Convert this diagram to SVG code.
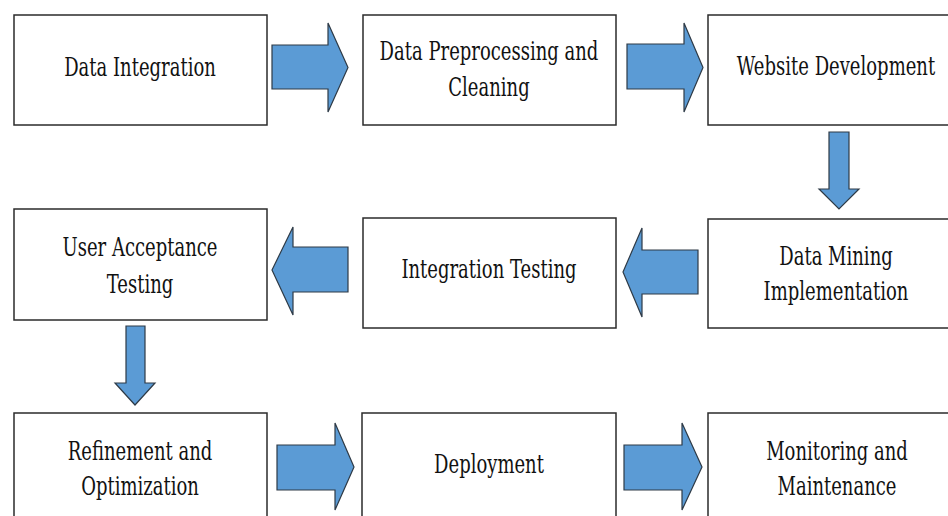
<svg xmlns="http://www.w3.org/2000/svg" width="948" height="516" viewBox="0 0 948 516">
<style>
.box{fill:#fff;stroke:#2b2b2b;stroke-width:1.5}
.arr{fill:#5b9bd5;stroke:#2e3a46;stroke-width:1.2;stroke-linejoin:miter}
.t{font-size:27px;fill:#111;text-anchor:middle}
.t2{font-size:25px;fill:#111;text-anchor:middle}
</style>
<rect width="948" height="516" fill="#fff"/>
<g id="connectors">
<polygon class="arr" points="272,45 328,45 328,23 348,67.5 328,112 328,89 272,89"/>
<polygon class="arr" points="627,44 684,44 684,23 703,67.5 684,112 684,89 627,89"/>
<polygon class="arr" points="829,132 849,132 849,189 859,189 839,209 819,189 829,189"/>
<polygon class="arr" points="698,250 642,250 642,228 623,272 642,317 642,294 698,294"/>
<polygon class="arr" points="348,247 293,247 293,227 272,270 293,315 293,292 348,292"/>
<polygon class="arr" points="126,326 145,326 145,383 155,383 135,405 115,383 126,383"/>
<polygon class="arr" points="277,445 335,445 335,423 354,467 335,510 335,490 277,490"/>
<polygon class="arr" points="624,445 682,445 682,423 702,467 682,510 682,490 624,490"/>
</g>
<g font-family="'DejaVu Serif', serif">
<g id="n1"><rect class="box" x="14" y="15" width="253" height="110"/>
<text class="t2" transform="translate(140,76) scale(0.72,1.05)">Data Integration</text></g>
<g id="n2"><rect class="box" x="363" y="15" width="253" height="110"/>
<text class="t2" transform="translate(489,60) scale(0.72,1.05)">Data Preprocessing and</text>
<text class="t2" transform="translate(489,96) scale(0.72,1.05)">Cleaning</text></g>
<g id="n3"><rect class="box" x="708" y="15" width="254" height="110"/>
<text class="t2" transform="translate(836,75) scale(0.72,1.05)">Website Development</text></g>
<g id="n4"><rect class="box" x="708" y="219" width="254" height="109"/>
<text class="t2" transform="translate(836,265) scale(0.72,1.05)">Data Mining</text>
<text class="t2" transform="translate(836,300) scale(0.72,1.05)">Implementation</text></g>
<g id="n5"><rect class="box" x="363" y="218" width="253" height="110"/>
<text class="t2" transform="translate(489,278) scale(0.72,1.05)">Integration Testing</text></g>
<g id="n6"><rect class="box" x="14" y="209" width="253" height="111"/>
<text class="t2" transform="translate(140,256) scale(0.72,1.05)">User Acceptance</text>
<text class="t2" transform="translate(140,293) scale(0.72,1.05)">Testing</text></g>
<g id="n7"><rect class="box" x="14" y="413" width="253" height="112"/>
<text class="t2" transform="translate(140,460) scale(0.72,1.05)">Refinement and</text>
<text class="t2" transform="translate(140,495) scale(0.72,1.05)">Optimization</text></g>
<g id="n8"><rect class="box" x="362" y="413" width="254" height="112"/>
<text class="t2" transform="translate(489,473) scale(0.72,1.05)">Deployment</text></g>
<g id="n9"><rect class="box" x="708" y="413" width="254" height="112"/>
<text class="t2" transform="translate(837,460) scale(0.72,1.05)">Monitoring and</text>
<text class="t2" transform="translate(837,495) scale(0.72,1.05)">Maintenance</text></g>
</g>
</svg>
